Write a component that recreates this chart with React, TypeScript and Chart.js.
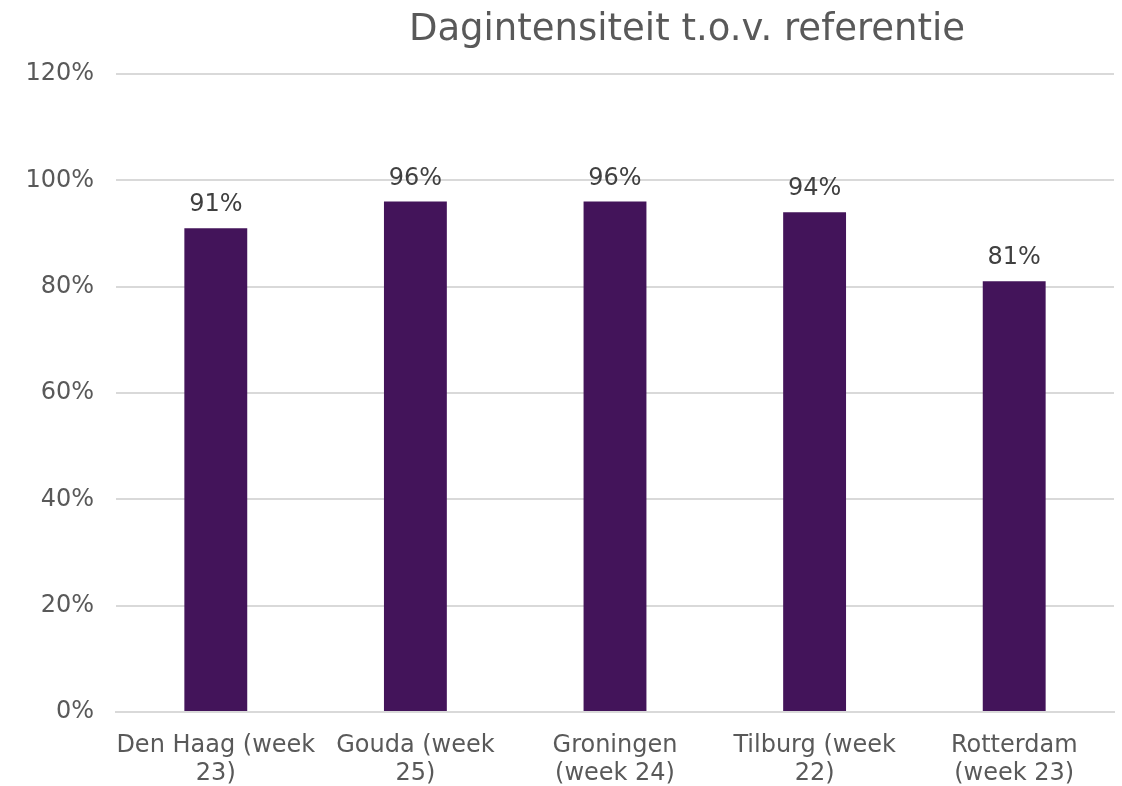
import React, { useEffect, useRef } from "react";
import { Chart, registerables } from "chart.js";

Chart.register(...registerables);

const categories: string[][] = [
  ["Den Haag (week", "23)"],
  ["Gouda (week", "25)"],
  ["Groningen", "(week 24)"],
  ["Tilburg (week", "22)"],
  ["Rotterdam", "(week 23)"],
];
const values: number[] = [91, 96, 96, 94, 81];
const titleText = "Dagintensiteit t.o.v. referentie";
const barColor = "#43145A";
const FONT = "'DejaVu Sans', Verdana, sans-serif";

const titlePlugin = {
  id: "customTitle",
  afterDraw(chart: any) {
    const ctx = chart.ctx;
    ctx.save();
    ctx.font = `37px ${FONT}`;
    ctx.fillStyle = "#595959";
    ctx.textAlign = "center";
    ctx.textBaseline = "alphabetic";
    ctx.fillText(titleText, 687, 40);
    ctx.restore();
  },
};

const labelPlugin = {
  id: "valueLabels",
  afterDatasetsDraw(chart: any) {
    const ctx = chart.ctx;
    const meta = chart.getDatasetMeta(0);
    ctx.save();
    ctx.font = `24px ${FONT}`;
    ctx.fillStyle = "#404040";
    ctx.textAlign = "center";
    ctx.textBaseline = "alphabetic";
    meta.data.forEach((bar: any, i: number) => {
      ctx.fillText(values[i] + "%", bar.x, bar.y - 17);
    });
    ctx.restore();
  },
};

export default function App() {
  const ref = useRef<HTMLCanvasElement>(null);
  useEffect(() => {
    const chart = new Chart(ref.current!, {
      type: "bar",
      data: {
        labels: categories,
        datasets: [
          {
            data: values,
            backgroundColor: barColor,
            barPercentage: 0.63,
            categoryPercentage: 0.5,
          },
        ],
      },
      options: {
        animation: false,
        responsive: false,
        layout: { padding: { top: 74, right: 8, left: 0, bottom: 0 } },
        plugins: { legend: { display: false }, tooltip: { enabled: false } },
        scales: {
          y: {
            min: 0,
            max: 120,
            ticks: {
              stepSize: 20,
              color: "#595959",
              font: { family: FONT, size: 24 },
              padding: 22,
              callback: (v: any) => v + "%",
            },
            grid: { color: "#d9d9d9", lineWidth: 2, drawTicks: false },
            border: { display: false },
            afterFit: (s: any) => {
              s.width = 116;
            },
          },
          x: {
            ticks: {
              color: "#595959",
              font: { family: FONT, size: 24, lineHeight: 1.17 },
              maxRotation: 0,
              autoSkip: false,
              padding: 12,
            },
            grid: { display: false },
            border: { color: "#d9d9d9", width: 2 },
            afterFit: (s: any) => {
              s.height = 74;
            },
          },
        },
      },
      plugins: [titlePlugin, labelPlugin],
    });
    return () => chart.destroy();
  }, []);
  return (
    <div style={{ position: "fixed", left: 0, top: 0, width: 1122, height: 786, background: "#fff" }}>
      <canvas ref={ref} width={1122} height={786} style={{ width: 1122, height: 786 }} />
    </div>
  );
}
